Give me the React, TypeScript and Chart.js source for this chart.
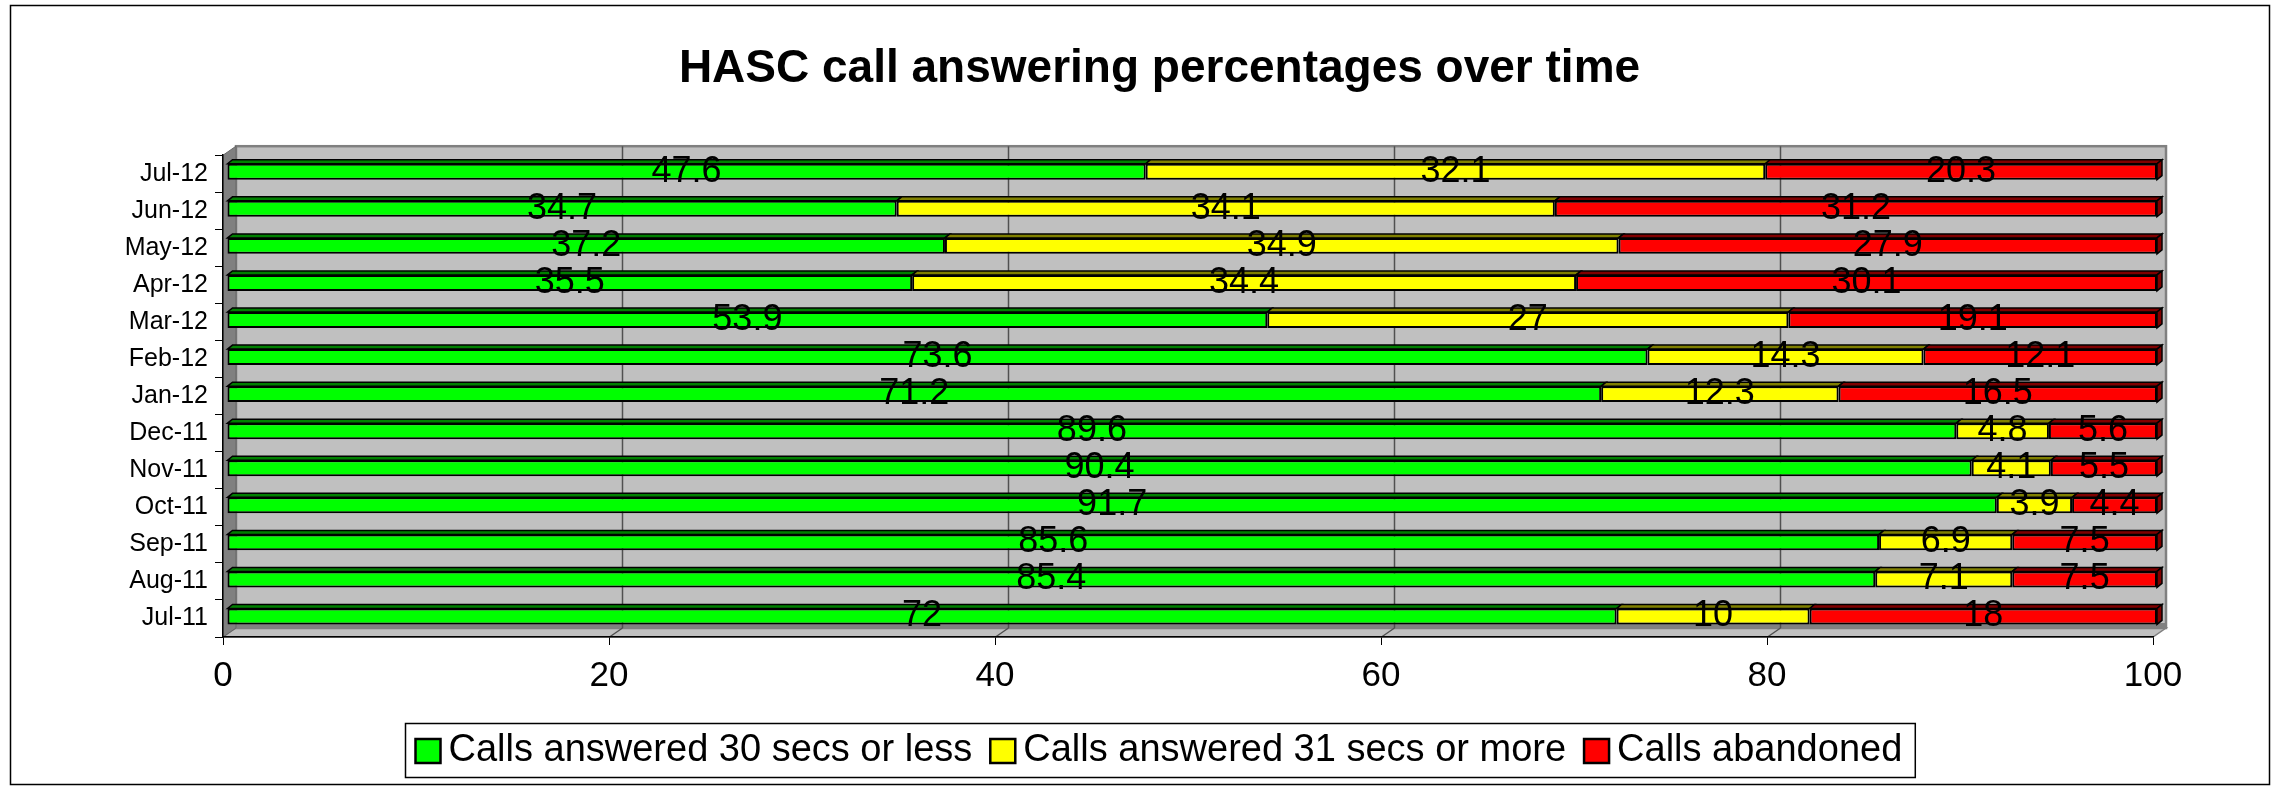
import React, { useEffect, useRef } from 'react';
import { Chart, registerables } from 'chart.js';
Chart.register(...registerables);

const TITLE = 'HASC call answering percentages over time';
const CATEGORIES = ['Jul-12', 'Jun-12', 'May-12', 'Apr-12', 'Mar-12', 'Feb-12', 'Jan-12', 'Dec-11', 'Nov-11', 'Oct-11', 'Sep-11', 'Aug-11', 'Jul-11'];
const SERIES_NAMES = ['Calls answered 30 secs or less', 'Calls answered 31 secs or more', 'Calls abandoned'];
const ANSWERED_30_OR_LESS = [47.6, 34.7, 37.2, 35.5, 53.9, 73.6, 71.2, 89.6, 90.4, 91.7, 85.6, 85.4, 72];
const ANSWERED_31_OR_MORE = [32.1, 34.1, 34.9, 34.4, 27, 14.3, 12.3, 4.8, 4.1, 3.9, 6.9, 7.1, 10];
const ABANDONED = [20.3, 31.2, 27.9, 30.1, 19.1, 12.1, 16.5, 5.6, 5.5, 4.4, 7.5, 7.5, 18];
const X_TICKS = [0, 20, 40, 60, 80, 100];

const FRONT_COLORS = ['#00FF00', '#FFFF00', '#FF0000'];
const TOP_COLORS = ['#008000', '#808000', '#800000'];

const FONT = "'Liberation Sans', Arial, Helvetica, sans-serif";
const W = 2279;
const H = 790;
const PAD_LEFT = 80;
const PAD_RIGHT = 40;
const Y_AXIS_WIDTH = 143;
const RIGHT_SPACER = 86;
const PAD_BOTTOM = 93;
const WALL_DX = 13;
const WALL_DY = 9;
const BAR_DX = 4;
const BAR_DY = -2;
const FACE_DX = 5;
const FACE_DY = 4;

function poly(ctx: CanvasRenderingContext2D, pts: number[][]) {
  ctx.beginPath();
  ctx.moveTo(pts[0][0], pts[0][1]);
  for (let i = 1; i < pts.length; i++) ctx.lineTo(pts[i][0], pts[i][1]);
  ctx.closePath();
}

const decorPlugin = {
  id: 'decor3d',
  beforeDraw(chart: any) {
    const { ctx, chartArea: a } = chart;
    const xs = chart.scales.x;
    const L = a.left, R = a.right, T = a.top, B = a.bottom;
    ctx.save();
    ctx.fillStyle = '#ffffff';
    ctx.fillRect(0, 0, chart.width, chart.height);
    // outer frame
    ctx.strokeStyle = '#000000';
    ctx.lineWidth = 1.5;
    ctx.strokeRect(10.5, 5.5, 2259, 779);
    // back wall
    ctx.fillStyle = '#C0C0C0';
    ctx.fillRect(L + WALL_DX, T - WALL_DY, R - L, B - T);
    // floor
    poly(ctx, [[L, B], [L + WALL_DX, B - WALL_DY], [R + WALL_DX, B - WALL_DY], [R, B]]);
    ctx.fillStyle = '#C0C0C0';
    ctx.fill();
    ctx.strokeStyle = '#808080';
    ctx.lineWidth = 1.5;
    ctx.stroke();
    // bottom strip of back wall
    ctx.fillStyle = '#808080';
    ctx.fillRect(L + WALL_DX, B - WALL_DY - 5, R - L, 5);
    // back wall frame
    ctx.strokeStyle = '#808080';
    ctx.lineWidth = 2.5;
    ctx.strokeRect(L + WALL_DX, T - WALL_DY, R - L, B - T);
    // side wall
    poly(ctx, [[L, T], [L + WALL_DX, T - WALL_DY], [L + WALL_DX, B - WALL_DY], [L, B]]);
    ctx.fillStyle = '#808080';
    ctx.fill();
    ctx.strokeStyle = '#666666';
    ctx.lineWidth = 1;
    ctx.stroke();
    // gridlines on back wall and floor
    ctx.strokeStyle = '#505050';
    ctx.lineWidth = 1.5;
    xs.ticks.forEach((t: any) => {
      if (t.value <= xs.min || t.value >= xs.max) return;
      const px = Math.round(xs.getPixelForValue(t.value)) + 0.5;
      ctx.beginPath();
      ctx.moveTo(px + WALL_DX, T - WALL_DY);
      ctx.lineTo(px + WALL_DX, B - WALL_DY);
      ctx.moveTo(px, B);
      ctx.lineTo(px + WALL_DX, B - WALL_DY);
      ctx.stroke();
    });
    ctx.restore();
  },
  beforeDatasetsDraw(chart: any) {
    chart.ctx.save();
    chart.ctx.translate(BAR_DX, BAR_DY);
  },
  afterDatasetsDraw(chart: any) {
    const { ctx } = chart;
    const n = chart.data.datasets.length;
    chart.data.datasets.forEach((ds: any, di: number) => {
      const meta = chart.getDatasetMeta(di);
      meta.data.forEach((el: any) => {
        const { x, y, base, height } = el.getProps(['x', 'y', 'base', 'height'], true);
        const x0 = Math.min(x, base), x1 = Math.max(x, base);
        const top = y - height / 2;
        const bottom = y + height / 2;
        ctx.lineWidth = 1.5;
        ctx.strokeStyle = '#000000';
        poly(ctx, [[x0, top], [x0 + FACE_DX, top - FACE_DY], [x1 + FACE_DX, top - FACE_DY], [x1, top]]);
        ctx.fillStyle = TOP_COLORS[di];
        ctx.fill();
        ctx.stroke();
        if (di === n - 1) {
          poly(ctx, [[x1, top], [x1 + FACE_DX, top - FACE_DY], [x1 + FACE_DX, bottom - FACE_DY], [x1, bottom]]);
          ctx.fillStyle = TOP_COLORS[di];
          ctx.fill();
          ctx.stroke();
        }
      });
    });
    ctx.restore();
  },
  afterDraw(chart: any) {
    const { ctx } = chart;
    ctx.save();
    // data labels
    ctx.font = `36px ${FONT}`;
    ctx.fillStyle = '#000000';
    ctx.textAlign = 'center';
    ctx.textBaseline = 'middle';
    chart.data.datasets.forEach((ds: any, di: number) => {
      const meta = chart.getDatasetMeta(di);
      meta.data.forEach((el: any, i: number) => {
        const { x, y, base } = el.getProps(['x', 'y', 'base'], true);
        ctx.fillText(String(ds.data[i]), (x + base) / 2 + BAR_DX, y + BAR_DY);
      });
    });
    // legend
    ctx.font = `38px ${FONT}`;
    const BOX = 25, GAP = 8, ITEM_GAP = 18, PL = 10, PR = 13;
    const items = chart.data.datasets.map((ds: any, i: number) => ({
      text: ds.label,
      w: ctx.measureText(ds.label).width,
      color: FRONT_COLORS[i],
    }));
    let total = PL + PR + ITEM_GAP * (items.length - 1);
    items.forEach((it: any) => { total += BOX + GAP + it.w; });
    const cx = (PAD_LEFT + chart.width - PAD_RIGHT) / 2;
    const left = Math.round(cx - total / 2) + 0.5;
    const top = 723.5, boxH = 54;
    ctx.strokeStyle = '#000000';
    ctx.lineWidth = 1.5;
    ctx.strokeRect(left, top, total, boxH);
    let x = left + PL;
    ctx.textAlign = 'left';
    items.forEach((it: any) => {
      ctx.fillStyle = it.color;
      ctx.fillRect(x, 739, BOX, 24);
      ctx.lineWidth = 2.5;
      ctx.strokeStyle = '#000000';
      ctx.strokeRect(x, 739, BOX, 24);
      ctx.fillStyle = '#000000';
      ctx.fillText(it.text, x + BOX + GAP, 751);
      x += BOX + GAP + it.w + ITEM_GAP;
    });
    ctx.restore();
  },
};

export default function App() {
  const ref = useRef<HTMLCanvasElement | null>(null);
  useEffect(() => {
    if (!ref.current) return;
    Chart.defaults.font.family = FONT;
    const seriesData = [ANSWERED_30_OR_LESS, ANSWERED_31_OR_MORE, ABANDONED];
    const chart = new Chart(ref.current, {
      type: 'bar',
      data: {
        labels: CATEGORIES,
        datasets: SERIES_NAMES.map((name, i) => ({
          label: name,
          data: seriesData[i],
          backgroundColor: FRONT_COLORS[i],
          borderColor: '#000000',
          borderWidth: 2,
          borderSkipped: false,
          barPercentage: 0.43,
          categoryPercentage: 1,
          xAxisID: 'x',
          yAxisID: 'y',
        })),
      },
      options: {
        indexAxis: 'y',
        responsive: false,
        devicePixelRatio: 1,
        animation: false,
        layout: { padding: { left: PAD_LEFT, right: PAD_RIGHT, top: 0, bottom: PAD_BOTTOM } },
        plugins: {
          title: {
            display: true,
            text: TITLE,
            color: '#000000',
            font: { size: 46, weight: 'bold', family: FONT },
            padding: { top: 42, bottom: 58 },
          },
          legend: { display: false },
          tooltip: { enabled: false },
        },
        scales: {
          x: {
            type: 'linear',
            stacked: true,
            min: 0,
            max: 100,
            afterBuildTicks: (s: any) => { s.ticks = X_TICKS.map((v) => ({ value: v })); },
            ticks: { color: '#000000', font: { size: 35, family: FONT }, padding: 10 },
            grid: { drawOnChartArea: false, drawTicks: true, tickLength: 8, color: '#000000' },
            border: { display: true, color: '#000000', width: 1.5 },
            afterFit: (s: any) => { s.height = 60; },
          },
          y: {
            type: 'category',
            stacked: true,
            ticks: { color: '#000000', font: { size: 25, family: FONT }, padding: 7 },
            grid: { drawOnChartArea: false, drawTicks: true, tickLength: 8, color: '#000000', offset: true },
            border: { display: true, color: '#000000', width: 1.5 },
            afterFit: (s: any) => { s.width = Y_AXIS_WIDTH; },
          },
          ySpacer: {
            type: 'category',
            position: 'right',
            display: true,
            ticks: { display: false },
            grid: { display: false, drawTicks: false },
            border: { display: false },
            afterFit: (s: any) => { s.width = RIGHT_SPACER; },
          },
        },
      },
      plugins: [decorPlugin],
    } as any);
    return () => chart.destroy();
  }, []);
  return (
    <div style={{ position: 'fixed', left: 0, top: 0, width: W, height: H, background: '#ffffff' }}>
      <canvas ref={ref} width={W} height={H} style={{ display: 'block', width: W, height: H }} />
    </div>
  );
}
